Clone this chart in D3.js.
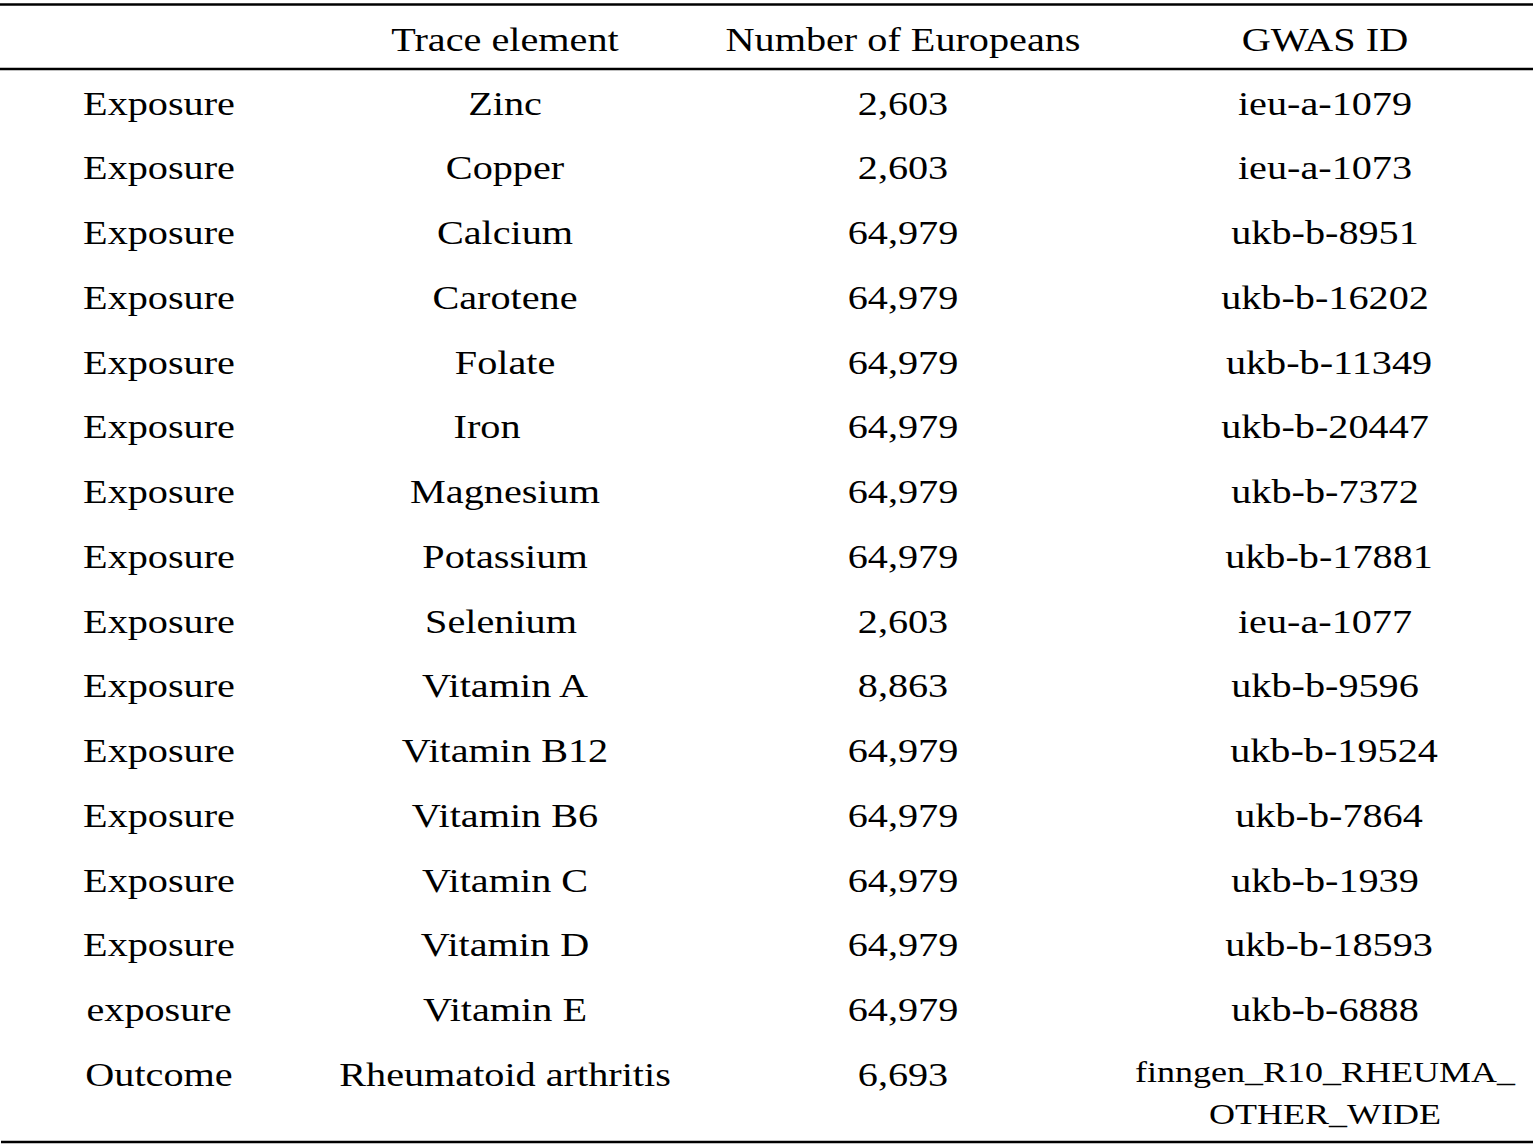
<!DOCTYPE html>
<html>
<head>
<meta charset="utf-8">
<script src="https://cdn.jsdelivr.net/npm/d3@7"></script>
<style>
  html, body { margin: 0; padding: 0; background: #fff; }
  svg { display: block; }
  text { font-family: "Liberation Serif", "Times New Roman", serif; fill: #000; }
</style>
</head>
<body>
<svg id="chart" width="1536" height="1146"></svg>
<script>
// ---- data ----
const headers = ["", "Trace element", "Number of Europeans", "GWAS ID"];
const roles = ["Exposure","Exposure","Exposure","Exposure","Exposure","Exposure","Exposure","Exposure",
               "Exposure","Exposure","Exposure","Exposure","Exposure","Exposure","exposure","Outcome"];
const elements = ["Zinc","Copper","Calcium","Carotene","Folate","Iron","Magnesium","Potassium",
                  "Selenium","Vitamin A","Vitamin B12","Vitamin B6","Vitamin C","Vitamin D","Vitamin E",
                  "Rheumatoid arthritis"];
const europeans = ["2,603","2,603","64,979","64,979","64,979","64,979","64,979","64,979",
                   "2,603","8,863","64,979","64,979","64,979","64,979","64,979","6,693"];
const gwasIds = ["ieu-a-1079","ieu-a-1073","ukb-b-8951","ukb-b-16202","ukb-b-11349","ukb-b-20447",
                 "ukb-b-7372","ukb-b-17881","ieu-a-1077","ukb-b-9596","ukb-b-19524","ukb-b-7864",
                 "ukb-b-1939","ukb-b-18593","ukb-b-6888","finngen_R10_RHEUMA_\nOTHER_WIDE"];

// ---- layout / style ----
const W = 1536, H = 1146;
const svg = d3.select("#chart");
const sx = 1.2;          // horizontal stretch of glyphs in the reference
const fontSize = 33.5;

const colX = d3.scaleOrdinal().domain([0,1,2,3]).range([159, 505, 903, 1325]);
const rowY = d3.scaleLinear().domain([0, roles.length - 1]).range([114.5, 1085.8]);
const headerY = 51;
// small horizontal misalignments seen in the reference ("row,col" -> px)
const nudge = {"5,1": -18, "8,1": -4, "4,3": 4, "7,3": 4, "10,3": 9, "11,3": 4, "13,3": 4};

// rules
const rules = [
  {y: 4.5, x1: 0, x2: 1533, w: 2.4},
  {y: 69, x1: 0, x2: 1533, w: 2.4},
  {y: 1142, x1: 1, x2: 1533, w: 2.4}
];
svg.selectAll("line.rule").data(rules).join("line")
  .attr("class", "rule")
  .attr("x1", d => d.x1).attr("x2", d => d.x2)
  .attr("y1", d => d.y).attr("y2", d => d.y)
  .attr("stroke", "#000").attr("stroke-width", d => d.w);

function cell(x, y, txt, size) {
  svg.append("text")
    .attr("transform", `translate(${x},${y}) scale(${sx},1)`)
    .attr("text-anchor", "middle")
    .attr("font-size", size || fontSize)
    .text(txt);
}

// header
headers.forEach((h, i) => { if (h) cell(colX(i), headerY, h); });

// body rows
const rows = roles.map((r, i) => [r, elements[i], europeans[i], gwasIds[i]]);
rows.forEach((row, i) => {
  row.forEach((v, c) => {
    const x = colX(c) + (nudge[i + "," + c] || 0);
    if (v.includes("\n")) {
      const parts = v.split("\n");
      cell(x, rowY(i) - 4, parts[0], 30);
      cell(x, rowY(i) + 38, parts[1], 30);
    } else {
      cell(x, rowY(i), v);
    }
  });
});
</script>
</body>
</html>
